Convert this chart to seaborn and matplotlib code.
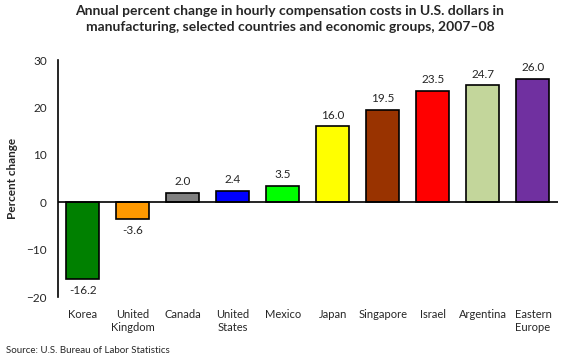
import pandas as pd
import matplotlib
matplotlib.use("Agg")
import matplotlib.pyplot as plt
import seaborn as sns

# Data
countries = ["Korea", "United\nKingdom", "Canada", "United\nStates", "Mexico",
             "Japan", "Singapore", "Israel", "Argentina", "Eastern\nEurope"]
pct_change = [-16.2, -3.6, 2.0, 2.4, 3.5, 16.0, 19.5, 23.5, 24.7, 26.0]
bar_colors = ["#008000", "#FF9900", "#808080", "#0000FF", "#00FF00",
              "#FFFF00", "#993300", "#FF0000", "#C3D69B", "#7030A0"]
y_ticks = [-20, -10, 0, 10, 20, 30]

df = pd.DataFrame({"country": countries, "pct": pct_change})

sns.set_style("white")
plt.rcParams['font.family'] = ['Lato', 'DejaVu Sans']

fig = plt.figure(figsize=(5.8, 3.6), dpi=100)
ax = fig.add_axes([0.1, 0.175, 0.862, 0.658])

sns.barplot(data=df, x="country", y="pct", hue="country", palette=bar_colors,
            legend=False, width=0.66, edgecolor="black", linewidth=1.2,
            saturation=1, ax=ax)

# value labels
for i, v in enumerate(pct_change):
    if v >= 0:
        ax.text(i, v + 1.2, f"{v:.1f}", ha="center", va="bottom", fontsize=8.5)
    else:
        ax.text(i, v - 1.2, f"{v:.1f}", ha="center", va="top", fontsize=8.5)

ax.axhline(0, color="black", linewidth=1.2, zorder=3)
ax.set_ylim(-20, 30)
ax.set_yticks(y_ticks)
ax.set_xlim(-0.5, len(countries) - 0.5)
ax.tick_params(axis="y", direction="out", length=5, width=1, labelsize=8.5, pad=3)
ax.tick_params(axis="x", length=0, labelsize=8, pad=9)
ax.set_xlabel("")
ax.set_ylabel("Percent change", fontsize=8.5, fontweight="bold", labelpad=6)

for side in ["top", "right", "bottom"]:
    ax.spines[side].set_visible(False)
ax.spines["left"].set_linewidth(1.2)
ax.spines["left"].set_color("black")

fig.suptitle("Annual percent change in hourly compensation costs in U.S. dollars in\n"
             "manufacturing, selected countries and economic groups, 2007\u201308",
             fontsize=10, fontweight="bold", y=0.985, x=0.5, linespacing=1.4)
fig.text(0.01, 0.015, "Source: U.S. Bureau of Labor Statistics", fontsize=7, ha="left", va="bottom")

fig.savefig("out.png", dpi=100)
